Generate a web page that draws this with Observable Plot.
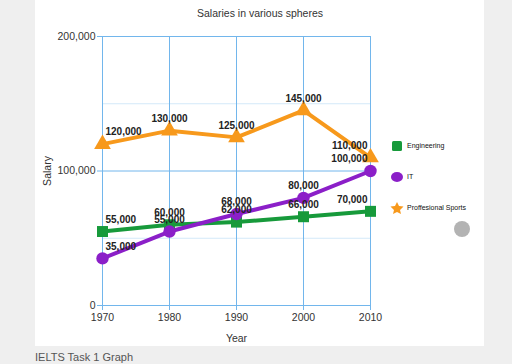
<!DOCTYPE html>
<html>
<head>
<meta charset="utf-8">
<script src="https://cdn.jsdelivr.net/npm/d3@7"></script>
<script src="https://cdn.jsdelivr.net/npm/@observablehq/plot@0.6"></script>
<style>
  html, body { margin: 0; padding: 0; background: #efefef; width: 512px; height: 364px; overflow: hidden; font-family: "Liberation Sans", Arial, sans-serif; }
  #panel { position: absolute; left: 35px; top: 0; width: 449px; height: 346px; background: #fff; }
  #chart { position: absolute; left: 0; top: 0; }
  #title { position: absolute; left: 0; width: 520px; top: 7px; text-align: center; font-size: 10.5px; color: #333; }
  #caption { position: absolute; left: 35px; top: 351px; font-size: 11px; color: #555; }
  #legend { position: absolute; left: 390px; top: 139px; font-size: 7px; color: #111; }
  .li { position: absolute; left: 0; height: 14px; white-space: nowrap; }
  .li svg { position: absolute; left: 0; top: 0; }
  .li span { position: absolute; left: 17px; top: 3px; }
  #knob { position: absolute; left: 454px; top: 221px; width: 16px; height: 16px; border-radius: 50%; background: #b3b3b3; }
</style>
</head>
<body>
<div id="panel"></div>
<div id="chart"></div>
<div id="title">Salaries in various spheres</div>
<div id="legend"></div>
<div id="knob"></div>
<div id="caption">IELTS Task 1 Graph</div>
<script>
const years = [1970, 1980, 1990, 2000, 2010];
const engineering = [55000, 60000, 62000, 66000, 70000];
const it = [35000, 55000, 68000, 80000, 100000];
const sports = [120000, 130000, 125000, 145000, 110000];
const seriesNames = ["Engineering", "IT", "Proffesional Sports"];
const seriesColors = ["#179a3b", "#8b1fc8", "#f7991c"];
const seriesSymbols = ["square", "circle", "triangle"];
const yTicks = [0, 100000, 200000];
const majorGrid = [0, 100000, 200000];
const minorGrid = [50000, 150000];

const seriesValues = [engineering, it, sports];
const data = [];
seriesNames.forEach((name, s) => {
  years.forEach((year, i) => data.push({series: name, year, value: seriesValues[s][i], i}));
});
const fmt = d3.format(",");

const labelFont = {fontSize: 10, fontWeight: "bold", fill: "#222", fontFamily: "Liberation Sans, Arial, sans-serif"};

const chart = Plot.plot({
  width: 512,
  height: 346,
  marginLeft: 102,
  marginRight: 142,
  marginTop: 36,
  marginBottom: 41,
  style: {background: "transparent", fontFamily: "Liberation Sans, Arial, sans-serif", fontSize: "10.5px", color: "#333"},
  x: {domain: [1970, 2010]},
  y: {domain: [0, 200000]},
  color: {domain: seriesNames, range: seriesColors},
  symbol: {domain: seriesNames, range: seriesSymbols},
  marks: [
    Plot.ruleY(minorGrid, {stroke: "#d3e9f9", strokeWidth: 1}),
    Plot.ruleX(years, {stroke: "#72b6ec", strokeWidth: 1}),
    Plot.ruleY(majorGrid, {stroke: "#72b6ec", strokeWidth: 1}),
    Plot.axisY({ticks: yTicks, tickFormat: fmt, tickSize: 5, tickPadding: 2, stroke: "#72b6ec", fill: "#333",
      label: "Salary", labelAnchor: "center", labelArrow: "none", labelOffset: 59}),
    Plot.axisX({ticks: years, tickFormat: d => String(d), tickSize: 5, tickPadding: 3, stroke: "#72b6ec", fill: "#333",
      label: "Year", labelAnchor: "center", labelArrow: "none", labelOffset: 36}),
    Plot.line(data, {x: "year", y: "value", z: "series", stroke: "series", strokeWidth: 4, strokeLinejoin: "round"}),
    Plot.dot(data, {x: "year", y: "value", symbol: "series", fill: "series", r: 6.2, stroke: null}),
    Plot.text(data.filter(d => d.i === 0), {x: "year", y: "value", text: d => fmt(d.value), textAnchor: "start", dx: 3, dy: -12, ...labelFont}),
    Plot.text(data.filter(d => d.i > 0 && d.i < 4), {x: "year", y: "value", text: d => fmt(d.value), textAnchor: "middle", dy: -12, ...labelFont}),
    Plot.text(data.filter(d => d.i === 4), {x: "year", y: "value", text: d => fmt(d.value), textAnchor: "end", dx: -3, dy: -12, ...labelFont})
  ]
});
document.getElementById("chart").appendChild(chart);

// legend
const legend = document.getElementById("legend");
const symPaths = {
  square: '<rect x="2" y="2" width="10" height="10" rx="1.5"/>',
  circle: '<ellipse cx="7" cy="7" rx="6" ry="5"/>',
  triangle: '<polygon points="7,1 9,5 13.5,5.5 10,9 11,13 7,11 3,13 4,9 0.5,5.5 5,5"/>'
};
seriesNames.forEach((name, s) => {
  const row = document.createElement("div");
  row.className = "li";
  row.style.top = (s * 31) + "px";
  row.innerHTML = `<svg width="14" height="14" fill="${seriesColors[s]}">${symPaths[seriesSymbols[s]]}</svg><span>${name}</span>`;
  legend.appendChild(row);
});
</script>
</body>
</html>
